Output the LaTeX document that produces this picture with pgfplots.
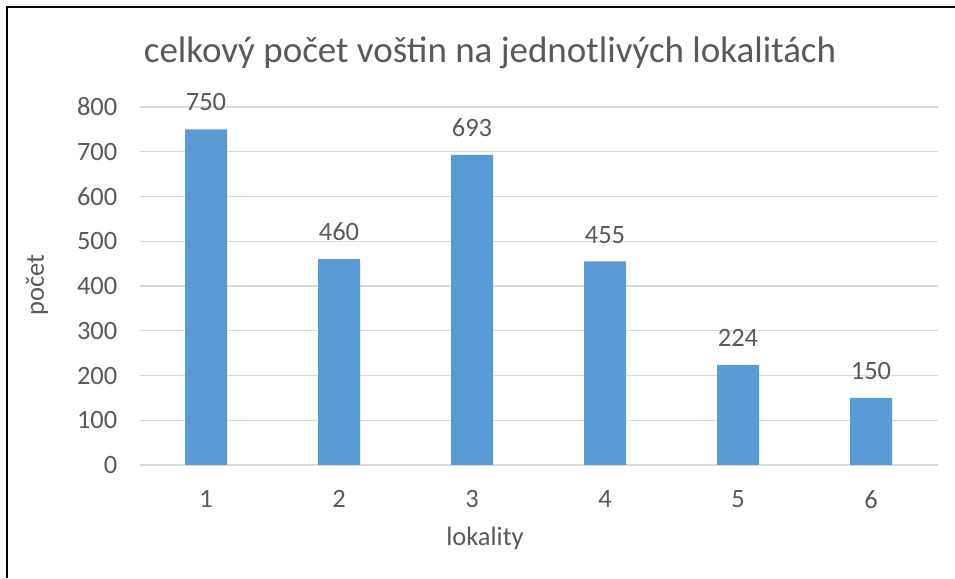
\documentclass[border=0pt]{standalone}
\usepackage{fontspec}
\setmainfont{Carlito}
\usepackage{pgfplots}
\pgfplotsset{compat=1.18}
\definecolor{barblue}{HTML}{5B9BD5}
\definecolor{txt}{HTML}{595959}
\definecolor{grd}{HTML}{D9D9D9}
\begin{document}
\begin{tikzpicture}[x=1pt,y=1pt]
\useasboundingbox (0,0) rectangle (955,578);
\draw[line width=2pt] (6.5,0) -- (6.5,570.5) -- (955,570.5);
\node[anchor=base, text=txt, font=\fontsize{37}{44}\selectfont] at (490,515) {celkový počet voštin na jednotlivých lokalitách};
\node[anchor=base, text=txt, font=\fontsize{26.5}{30}\selectfont] at (485,33) {lokality};
\node[rotate=90, text=txt, font=\fontsize{26.5}{30}\selectfont] at (37,293) {počet};
\begin{axis}[
  at={(139.5pt,113pt)}, anchor=south west,
  scale only axis, width=798pt, height=358pt,
  xmin=0.5, xmax=6.5, ymin=0, ymax=800,
  ytick={0,100,...,800}, xtick={1,...,6},
  ymajorgrids, grid style={grd, line width=1.3pt},
  axis line style={draw=none},
  major tick length=0pt,
  /pgf/number format/assume math mode=true,
  yticklabel style={anchor=east, inner sep=0pt, xshift=-22pt, text=txt, font=\fontsize{26.5}{30}\selectfont},
  xticklabel style={anchor=north, inner sep=0pt, yshift=-25pt, text=txt, font=\fontsize{26.5}{30}\selectfont},
  clip=false,
]
\addplot[ybar, bar width=42pt, fill=barblue, draw=none,
  nodes near coords,
  nodes near coords style={anchor=south, inner sep=0pt, yshift=18pt, text=txt, font=\fontsize{26.5}{30}\selectfont}]
  coordinates {(1,750) (2,460) (3,693) (4,455) (5,224) (6,150)};
\end{axis}
\end{tikzpicture}
\end{document}
